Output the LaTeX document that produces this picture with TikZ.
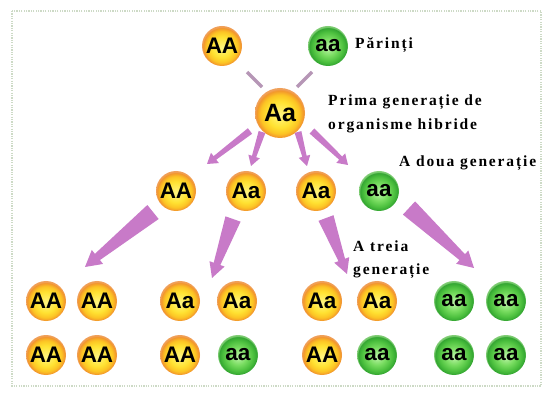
\documentclass[tikz,border=0pt]{standalone}
\usepackage{fontspec}
\setmainfont{Liberation Serif}
\newfontfamily\ballfont{Liberation Sans}
\usetikzlibrary{calc}

% colours
\definecolor{arrowpink}{RGB}{200,122,200}
\definecolor{stemgray}{RGB}{182,150,182}
\definecolor{framegreen}{RGB}{205,218,198}
\definecolor{y0}{RGB}{255,246,130}
\definecolor{y1}{RGB}{255,226,50}
\definecolor{y2}{RGB}{252,196,36}
\definecolor{y3}{RGB}{242,150,44}
\definecolor{y4}{RGB}{240,160,90}
\definecolor{g0}{RGB}{190,246,170}
\definecolor{g1}{RGB}{120,220,96}
\definecolor{g2}{RGB}{76,192,62}
\definecolor{g3}{RGB}{52,166,50}
\definecolor{g4}{RGB}{130,206,118}

% ball shadings: 25bp is the rim of the circle
\pgfdeclareradialshading{yellowball}{\pgfpoint{0bp}{-2bp}}{%
  color(0bp)=(y0); color(13bp)=(y1); color(19.5bp)=(y2); color(23.5bp)=(y3);
  color(25bp)=(y4); color(50bp)=(y4)}
\pgfdeclareradialshading{greenball}{\pgfpoint{0bp}{-2bp}}{%
  color(0bp)=(g0); color(11bp)=(g1); color(19bp)=(g2); color(23.5bp)=(g3);
  color(25bp)=(g4); color(50bp)=(g4)}

% tapered arrow: tail, tip, tail half-width, neck half-width, head half-width, head length
\newcommand\taperarrow[6]{%
  \coordinate (tmpB) at ($(#2)!#6!(#1)$);
  \fill[arrowpink]
    ($(#1)!#3!90:(#2)$) -- ($(tmpB)!#4!90:(#2)$) -- ($(tmpB)!#5!90:(#2)$) --
    (#2) --
    ($(tmpB)!#5!-90:(#2)$) -- ($(tmpB)!#4!-90:(#2)$) -- ($(#1)!#3!-90:(#2)$) -- cycle;
}

\tikzset{
  ball/.style={circle, minimum size=40pt, inner sep=0pt,
    font=\ballfont\bfseries\fontsize{22.5}{22.5}\selectfont},
  yel/.style={ball, shading=yellowball},
  grn/.style={ball, shading=greenball},
  bigball/.style={minimum size=50pt, font=\ballfont\bfseries\fontsize{25}{25}\selectfont},
  lab/.style={inner sep=0pt, anchor=base west,
    font=\bfseries\fontsize{15.5}{15.5}\selectfont\addfontfeature{LetterSpace=12}},
  stem/.style={draw=stemgray, line width=3.5pt},
}

\begin{document}
\begin{tikzpicture}[x=1pt,y=-1pt]
\useasboundingbox (0,0) rectangle (546,395);
\fill[white] (0,0) rectangle (546,395);

% dotted frame
\draw[framegreen, line width=2.8pt, dash pattern=on 1.3pt off 1.1pt]
  (12,11) rectangle (541,386);

% parents
\node[yel] (p1) at (222,46) {AA};
\node[grn] (p2) at (328,46) {aa};

% first generation
\node[yel, bigball] (f1) at (280,113) {Aa};

% second generation
\node[yel] (s1) at (176,191) {AA};
\node[yel] (s2) at (246,191) {Aa};
\node[yel] (s3) at (316,191) {Aa};
\node[grn] (s4) at (379,191) {aa};

% third generation
\node[yel] (t1a) at (46,301) {AA};
\node[yel] (t1b) at (97,301) {AA};
\node[yel] (t1c) at (46,355) {AA};
\node[yel] (t1d) at (97,355) {AA};
\node[yel] (t2a) at (180,301) {Aa};
\node[yel] (t2b) at (237,301) {Aa};
\node[yel] (t2c) at (180,355) {AA};
\node[grn] (t2d) at (238,355) {aa};
\node[yel] (t3a) at (322,301) {Aa};
\node[yel] (t3b) at (377,301) {Aa};
\node[yel] (t3c) at (322,355) {AA};
\node[grn] (t3d) at (377,355) {aa};
\node[grn] (t4a) at (454,301) {aa};
\node[grn] (t4b) at (506,301) {aa};
\node[grn] (t4c) at (454,355) {aa};
\node[grn] (t4d) at (506,355) {aa};

% stems from the parents to the hybrid
\coordinate (st1a) at (247,72);  \coordinate (st1b) at (262,87);
\coordinate (st2a) at (312,72);  \coordinate (st2b) at (297,87);
\draw[stem] (st1a) -- (st1b);
\draw[stem] (st2a) -- (st2b);

% arrows from the hybrid to the second generation
\coordinate (a1t) at (250,131); \coordinate (a1h) at (207,164);
\coordinate (a2t) at (262,132); \coordinate (a2h) at (251,166);
\coordinate (a3t) at (298,132); \coordinate (a3h) at (307,166);
\coordinate (a4t) at (312,131); \coordinate (a4h) at (348,165);
\taperarrow{a1t}{a1h}{3.5pt}{2.2pt}{6.5pt}{10pt}
\taperarrow{a2t}{a2h}{3.5pt}{2.2pt}{6pt}{10pt}
\taperarrow{a3t}{a3h}{3.5pt}{2.2pt}{6pt}{10pt}
\taperarrow{a4t}{a4h}{3.5pt}{2.2pt}{6.5pt}{10pt}

% arrows from the second to the third generation
\coordinate (b1t) at (153,212); \coordinate (b1h) at (85,267);
\coordinate (b2t) at (233,219); \coordinate (b2h) at (212,278);
\coordinate (b3t) at (326,218); \coordinate (b3h) at (347,274);
\coordinate (b4t) at (409,208); \coordinate (b4h) at (474,268);
\taperarrow{b1t}{b1h}{9pt}{4pt}{9pt}{16pt}
\taperarrow{b2t}{b2h}{8pt}{3.5pt}{8pt}{15pt}
\taperarrow{b3t}{b3h}{8pt}{3.5pt}{8pt}{15pt}
\taperarrow{b4t}{b4h}{9pt}{4pt}{9pt}{16pt}

% labels
\node[lab] (lparents) at (355,49) {Părinți};
\node[lab] (lfirst1) at (328,106) {Prima generație de};
\node[lab] (lfirst2) at (328,130) {organisme hibride};
\node[lab] (lsecond) at (399,167) {A doua generație};
\node[lab] (lthird1) at (353,252) {A treia};
\node[lab] (lthird2) at (353,275) {generație};
\end{tikzpicture}
\end{document}
